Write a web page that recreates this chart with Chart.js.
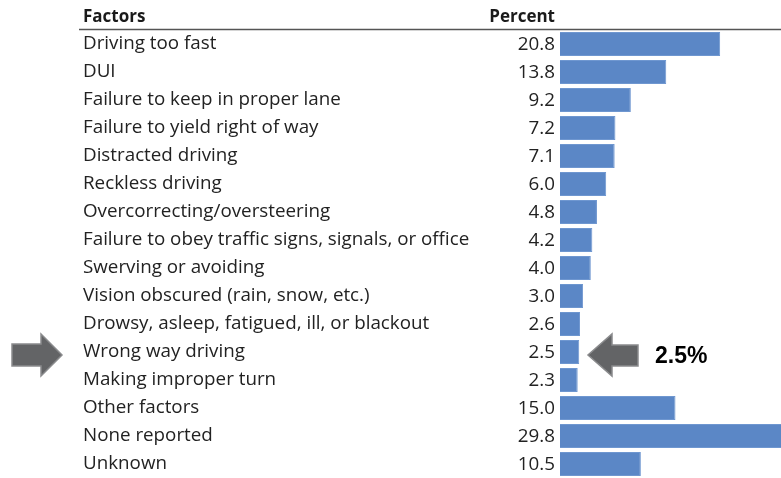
<!DOCTYPE html>
<html lang="en">
<head>
<meta charset="UTF-8">
<title>Factors</title>
<script src="https://cdn.jsdelivr.net/npm/chart.js"></script>
<style>
  html, body { margin: 0; padding: 0; background: #fff; }
  #wrap { width: 781px; height: 478px; position: relative; }
</style>
</head>
<body>
<div id="wrap"><canvas id="factorChart"></canvas></div>
<script>
// datos de la tabla
var factors = [
  'Driving too fast', 'DUI', 'Failure to keep in proper lane', 'Failure to yield right of way',
  'Distracted driving', 'Reckless driving', 'Overcorrecting/oversteering',
  'Failure to obey traffic signs, signals, or office', 'Swerving or avoiding',
  'Vision obscured (rain, snow, etc.)', 'Drowsy, asleep, fatigued, ill, or blackout',
  'Wrong way driving', 'Making improper turn', 'Other factors', 'None reported', 'Unknown'
];
var percents = [20.8, 13.8, 9.2, 7.2, 7.1, 6.0, 4.8, 4.2, 4.0, 3.0, 2.6, 2.5, 2.3, 15.0, 29.8, 10.5];
var highlightIndex = 11;
var highlightText = '2.5%';

var fam = '"Open Sans", Lato, sans-serif';
var labelFont = '18.8px ' + fam;
var headFont = 'bold 17px ' + fam;

// encabezados, valores y flechas
var tablePlugin = {
  id: 'tablePlugin',
  afterDraw: function(chart) {
    var ctx = chart.ctx;
    var y = chart.scales.y;
    var area = chart.chartArea;
    ctx.save();
    ctx.fillStyle = '#1a1a1a';
    ctx.font = headFont;
    ctx.textBaseline = 'middle';
    ctx.textAlign = 'left';
    ctx.fillText('Factors', 83, 17);
    ctx.textAlign = 'right';
    ctx.fillText('Percent', 555, 17);

    ctx.strokeStyle = '#555';
    ctx.lineWidth = 1.5;
    ctx.beginPath();
    ctx.moveTo(79, 29.5);
    ctx.lineTo(781, 29.5);
    ctx.stroke();

    ctx.font = labelFont;
    ctx.fillStyle = '#222';
    percents.forEach(function(v, i) {
      ctx.fillText(v.toFixed(1), area.left - 5, y.getPixelForValue(i) + 1);
    });

    // flechas
    var cy = y.getPixelForValue(highlightIndex) + 3;
    ctx.fillStyle = '#636466';
    ctx.strokeStyle = '#8a8b8d';
    ctx.lineWidth = 1.5;
    // izquierda, apunta a la derecha
    ctx.beginPath();
    ctx.moveTo(12, cy - 11);
    ctx.lineTo(41, cy - 11);
    ctx.lineTo(41, cy - 21);
    ctx.lineTo(62, cy);
    ctx.lineTo(41, cy + 21);
    ctx.lineTo(41, cy + 11);
    ctx.lineTo(12, cy + 11);
    ctx.closePath();
    ctx.fill();
    ctx.stroke();
    // derecha, apunta a la izquierda
    ctx.beginPath();
    ctx.moveTo(638, cy - 10);
    ctx.lineTo(612, cy - 10);
    ctx.lineTo(612, cy - 21);
    ctx.lineTo(588, cy);
    ctx.lineTo(612, cy + 21);
    ctx.lineTo(612, cy + 11);
    ctx.lineTo(638, cy + 11);
    ctx.closePath();
    ctx.fill();
    ctx.stroke();

    ctx.fillStyle = '#000';
    ctx.font = 'bold 23px "Liberation Sans", Arial, sans-serif';
    ctx.textAlign = 'left';
    ctx.fillText(highlightText, 655, cy + 2);
    ctx.restore();
  }
};

new Chart(document.getElementById('factorChart').getContext('2d'), {
  type: 'bar',
  data: {
    labels: factors,
    datasets: [{
      data: percents,
      backgroundColor: '#5b87c6',
      borderColor: '#6f97d0',
      borderWidth: 1,
      barPercentage: 0.86,
      categoryPercentage: 1.0
    }]
  },
  options: {
    indexAxis: 'y',
    responsive: true,
    maintainAspectRatio: false,
    animation: false,
    layout: { padding: { left: 83, top: 30, right: 0, bottom: 0 } },
    plugins: { legend: { display: false }, tooltip: { enabled: false } },
    scales: {
      x: { display: false, min: 0, max: 28.7 },
      y: {
        grid: { display: false },
        border: { display: false },
        afterFit: function(scale) {
          scale.width = 477;
          scale.paddingTop = 0;
          scale.paddingBottom = 0;
        },
        ticks: {
          crossAlign: 'far',
          color: '#222',
          font: { family: fam, size: 18.8 },
          autoSkip: false
        }
      }
    }
  },
  plugins: [tablePlugin]
});
</script>
</body>
</html>
